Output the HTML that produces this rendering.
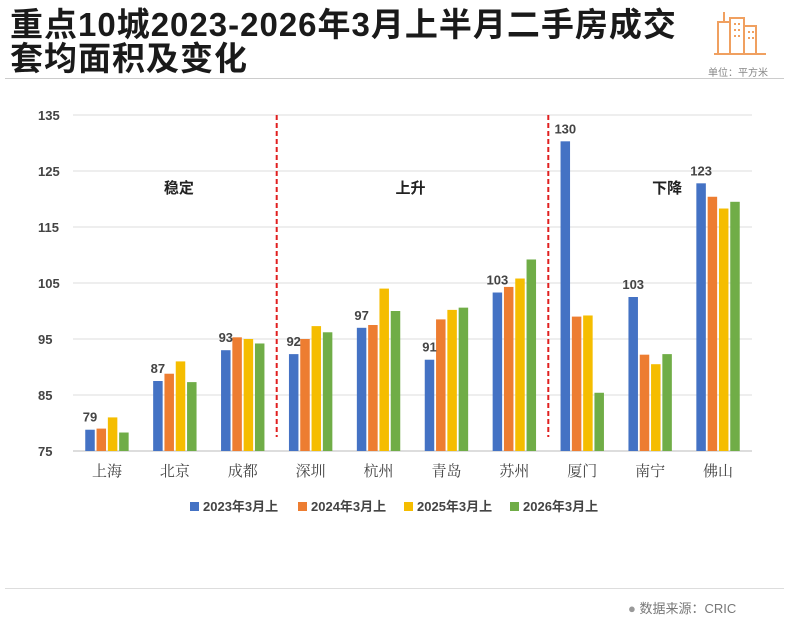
<!DOCTYPE html>
<html><head><meta charset="utf-8">
<style>
body{margin:0;background:#fff;width:789px;height:617px;overflow:hidden;font-family:"Liberation Sans","Noto Sans CJK SC",sans-serif;}
#wrap{position:relative;width:789px;height:617px;}
.title{position:absolute;left:10px;top:8px;font-size:33px;font-weight:bold;line-height:34px;color:#1a1a1a;white-space:nowrap;letter-spacing:1px;}
</style></head>
<body>
<div id="wrap">
<div class="title">重点10城2023-2026年3月上半月二手房成交<br>套均面积及变化</div>
<svg id="icon" style="position:absolute;left:712px;top:4px" width="56" height="52" viewBox="0 0 56 52">
<g fill="none" stroke="#f0a060" stroke-width="2"><path d="M6 50V18h12V50M12 18V8M18 50V14h14v36M32 50V22h12v28M2 50h52"/><path d="M22 20h2M26 20h2M22 26h2M26 26h2M22 32h2M26 32h2M36 28h2M40 28h2M36 34h2M40 34h2"/></g></svg>
<div style="position:absolute;left:708px;top:64px;font-size:10px;color:#888">单位：平方米</div>
<div style="position:absolute;left:5px;top:78px;width:779px;height:1px;background:#ccc"></div>
<svg id="chart" style="position:absolute;left:0;top:0" width="789" height="617"></svg>
<div style="position:absolute;left:5px;top:588px;width:779px;height:1px;background:#ddd"></div>
<div style="position:absolute;left:628px;top:598px;font-size:13px;color:#777"><span style="color:#999">●</span> 数据来源：CRIC</div>
</div>
<script>
const categories=["上海","北京","成都","深圳","杭州","青岛","苏州","厦门","南宁","佛山"];
const s2023=[78.8,87.5,93,92.3,97,91.3,103.3,130.3,102.5,122.8];
const s2024=[79,88.8,95.3,95,97.5,98.5,104.3,99,92.2,120.4];
const s2025=[81,91,95,97.3,104,100.2,105.8,99.2,90.5,118.3];
const s2026=[78.3,87.3,94.2,96.2,100,100.6,109.2,85.4,92.3,119.5];
const labels2023=["79","87","93","92","97","91","103","130","103","123"];
const seriesNames=["2023年3月上","2024年3月上","2025年3月上","2026年3月上"];
const colors=["#4472c4","#ed7d31","#f5bd00","#70ad47"];
const yTicks=[75,85,95,105,115,125,135];
const groupNames=["稳定","上升","下降"];
const series=[s2023,s2024,s2025,s2026];
const svg=document.getElementById('chart');
const NS="http://www.w3.org/2000/svg";
const x0=73,x1=752,yBase=451,yTop=115,vMin=75,vMax=135;
const y=v=>yBase-(v-vMin)/(vMax-vMin)*(yBase-yTop);
const band=(x1-x0)/categories.length;
const xc=i=>x0+band*(i+0.5);
function mk(t,a,txt){const e=document.createElementNS(NS,t);for(const k in a)e.setAttribute(k,a[k]);if(txt!==undefined)e.textContent=txt;svg.appendChild(e);return e;}
yTicks.forEach(t=>{
 const g=mk('line',{x1:x0,x2:x1,y1:y(t),y2:y(t),stroke:t===75?'#bbb':'#ddd','stroke-width':1});
 
 
 const l=mk('text',{x:38,y:y(t)+5,'font-size':13,fill:'#444','font-weight':'bold'},t);
 
 
});
const bw=9.5,step=11.3;
series.forEach((s,si)=>{
 s.forEach((v,i)=>{
  const bx=xc(i)-2*step+si*step+(step-bw)/2;
  const r=mk('rect',{x:bx,y:y(v),width:bw,height:yBase-y(v),fill:colors[si]});
  
  
 });
});
s2023.forEach((v,i)=>{
 const bx=xc(i)-2*step+step/2;
 const t=mk('text',{x:bx,y:y(v)-8,'font-size':13,'font-weight':'bold',fill:'#444','text-anchor':'middle'},labels2023[i]);
 
 
});
categories.forEach((c,i)=>{
 const t=mk('text',{x:xc(i),y:476,'font-size':15,fill:'#444','text-anchor':'middle','font-family':'"Noto Serif CJK SC",serif'},c);
 
 
});
[3,7].forEach(k=>{
 const xd=x0+band*k;
 const d=mk('line',{x1:xd,x2:xd,y1:yTop,y2:437,stroke:'#e02020','stroke-width':2,'stroke-dasharray':'5,3'});
 
 
});
const gpos=[xc(1)+4,xc(5)-36,xc(8)+17];
groupNames.forEach((g,i)=>{
 const t=mk('text',{x:gpos[i],y:193,'font-size':15,'font-weight':'bold',fill:'#222','text-anchor':'middle'},g);
 
 
});
const lx=[190,298,404,510];
seriesNames.forEach((n,i)=>{
 const r=mk('rect',{x:lx[i],y:502,width:9,height:9,fill:colors[i]});
 
 
 const t=mk('text',{x:lx[i]+13,y:511,'font-size':13,fill:'#444','font-weight':'bold'},n);
 
 
});
</script>
</body></html>
